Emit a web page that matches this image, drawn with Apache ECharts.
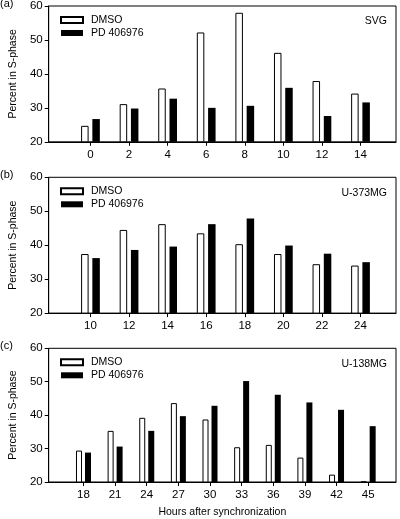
<!DOCTYPE html>
<html><head><meta charset="utf-8">
<script src="https://cdn.jsdelivr.net/npm/echarts@6/dist/echarts.min.js"></script>
<style>html,body{margin:0;padding:0;background:#fff}#c{width:400px;height:519px}</style>
</head><body><div id="c"></div>
<script>
// Panel (a) SVG
const hoursA = [0, 2, 4, 6, 8, 10, 12, 14];
const dmsoA = [24.7, 31.1, 35.7, 52.2, 58.0, 46.2, 37.9, 34.2];
const pdA = [26.7, 29.8, 32.7, 30.0, 30.6, 35.9, 27.6, 31.6];
// Panel (b) U-373MG
const hoursB = [10, 12, 14, 16, 18, 20, 22, 24];
const dmsoB = [37.4, 44.5, 46.2, 43.5, 40.3, 37.4, 34.4, 34.0];
const pdB = [36.2, 38.6, 39.6, 46.2, 47.9, 39.9, 37.5, 35.0];
// Panel (c) U-138MG
const hoursC = [18, 21, 24, 27, 30, 33, 36, 39, 42, 45];
const dmsoC = [29.4, 35.3, 39.2, 43.6, 38.7, 30.4, 31.1, 27.3, 22.2, 20.2];
const pdC = [28.8, 30.6, 35.3, 39.7, 42.8, 50.2, 46.1, 43.8, 41.6, 36.7];
const yTicks = [20, 30, 40, 50, 60];
const panelLabels = ['(a)', '(b)', '(c)'];
const cellLines = ['SVG', 'U-373MG', 'U-138MG'];
const seriesNames = ['DMSO', 'PD 406976'];
const yTitle = 'Percent in S-phase';
const xTitle = 'Hours after synchronization';

const FONT = 'Liberation Sans, Arial, sans-serif';
const panels = [
  {hours: hoursA, dmso: dmsoA, pd: pdA, top: 6, min: -2.166, max: 15.84, bw: 7.5},
  {hours: hoursB, dmso: dmsoB, pd: pdB, top: 177.3, min: 7.834, max: 25.84, bw: 7.5},
  {hours: hoursC, dmso: dmsoC, pd: pdC, top: 348.3, min: 14.70, max: 47.64, bw: 6}
];
const H = 135.8;

const grid = [], xAxis = [], yAxis = [], series = [], legend = [], graphic = [];
panels.forEach((p, i) => {
  grid.push({left: 48.5, right: 4, top: p.top, height: H, show: true, borderColor: '#000', borderWidth: 1, backgroundColor: 'transparent'});
  xAxis.push({
    type: 'value', gridIndex: i, min: p.min, max: p.max,
    splitLine: {show: false},
    axisLine: {show: true, onZero: false, lineStyle: {color: '#000', width: 1}},
    axisTick: {show: true, length: 4, customValues: p.hours, lineStyle: {color: '#000'}},
    axisLabel: {customValues: p.hours, color: '#000', fontSize: 11.5, fontFamily: FONT, margin: 7},
    name: i === 2 ? xTitle : '', nameLocation: 'middle', nameGap: 25,
    nameTextStyle: {color: '#000', fontSize: 10.5, fontFamily: FONT}
  });
  yAxis.push({
    type: 'value', gridIndex: i, min: 20, max: 60, interval: 10,
    splitLine: {show: false},
    axisLine: {show: true, onZero: false, lineStyle: {color: '#000', width: 1}},
    axisTick: {show: true, length: 4, lineStyle: {color: '#000'}},
    axisLabel: {color: '#000', fontSize: 11.5, fontFamily: FONT, margin: 6},
    name: yTitle, nameLocation: 'middle', nameGap: 24,
    nameTextStyle: {color: '#000', fontSize: 10.5, fontFamily: FONT}
  });
  series.push({
    name: seriesNames[0], type: 'bar', xAxisIndex: i, yAxisIndex: i,
    barWidth: p.bw, barGap: '50%',
    itemStyle: {color: '#fff', borderColor: '#000', borderWidth: 1},
    data: p.hours.map((h, k) => [h, p.dmso[k]]), silent: true, animation: false
  });
  series.push({
    name: seriesNames[1], type: 'bar', xAxisIndex: i, yAxisIndex: i,
    barWidth: p.bw, barGap: '50%',
    itemStyle: {color: '#000'},
    data: p.hours.map((h, k) => [h, p.pd[k]]), silent: true, animation: false
  });
  legend.push({
    data: seriesNames, orient: 'vertical', left: 60, top: p.top + 8,
    icon: 'rect', itemWidth: 22, itemHeight: 6, itemGap: 1,
    textStyle: {color: '#000', fontSize: 10.5, fontFamily: FONT, lineHeight: 12, padding: [0, 0, 0, 3]},
    padding: 0, selectedMode: false
  });
  graphic.push({type: 'text', left: 0, top: p.top - 8,
    style: {text: panelLabels[i], fill: '#000', font: '11px ' + FONT}});
  graphic.push({type: 'text', right: 13, top: p.top + 10,
    style: {text: cellLines[i], fill: '#000', font: '10.5px ' + FONT}});
});

const chart = echarts.init(document.getElementById('c'), null, {renderer: 'canvas'});
chart.setOption({animation: false, grid, xAxis, yAxis, series, legend, graphic});
</script></body></html>
